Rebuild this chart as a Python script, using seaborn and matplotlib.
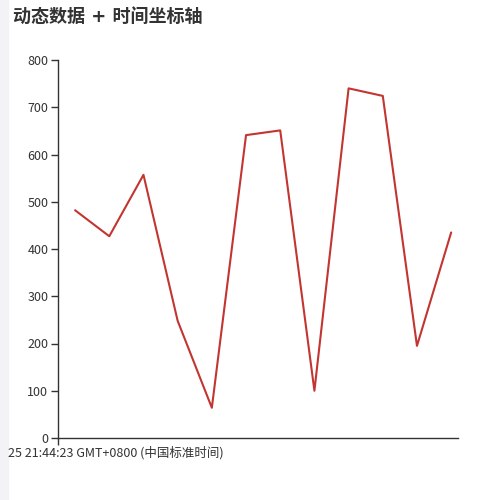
"""动态数据 + 时间坐标轴 line chart."""
import matplotlib
matplotlib.use("Agg")
import matplotlib.pyplot as plt
import seaborn as sns
import pandas as pd

# data
seconds = [0, 1, 2, 3, 4, 5, 6, 7, 8, 9, 10, 11]
values = [482, 427, 557, 248, 64, 641, 651, 100, 740, 724, 195, 435]
y_ticks = [0, 100, 200, 300, 400, 500, 600, 700, 800]
title = "动态数据 + 时间坐标轴"
x_label = "25 21:44:23 GMT+0800 (中国标准时间)"

sns.set_style("ticks")
plt.rcParams["font.family"] = ["Noto Sans CJK SC", "DejaVu Sans"]

df = pd.DataFrame({"t": seconds, "value": values})

fig = plt.figure(figsize=(5, 5), dpi=100)
ax = fig.add_axes([0.116, 0.124, 0.8, 0.756])

sns.lineplot(data=df, x="t", y="value", ax=ax, color="#c23531", linewidth=1.5)

ax.set_xlim(-0.5, 11.2)
ax.set_ylim(0, 800)
ax.set_yticks(y_ticks)
ax.set_xticks([-0.5])
ax.set_xticklabels([""])
ax.set_xlabel("")
ax.set_ylabel("")
sns.despine(ax=ax)
for side in ["left", "bottom"]:
    ax.spines[side].set_color("#333333")
    ax.spines[side].set_linewidth(1)
ax.tick_params(axis="both", direction="out", length=5, width=1, color="#333333",
               labelsize=9, labelcolor="#333333", pad=2)

# light strip at the left edge of the page
fig.patches.append(plt.Rectangle((0, 0), 0.016, 1, transform=fig.transFigure,
                                 color="#f2f2f7", zorder=-1))

# DejaVu first so the spaces and "+" get the wider latin widths
fig.text(0.026, 0.967, title, fontsize=13, fontweight="bold", color="#333333",
         ha="left", va="center", family=["DejaVu Sans", "Noto Sans CJK SC"])
fig.text(0.016, 0.094, x_label, fontsize=9, color="#333333", ha="left", va="center")

fig.savefig("out.png", dpi=100)
plt.close(fig)
